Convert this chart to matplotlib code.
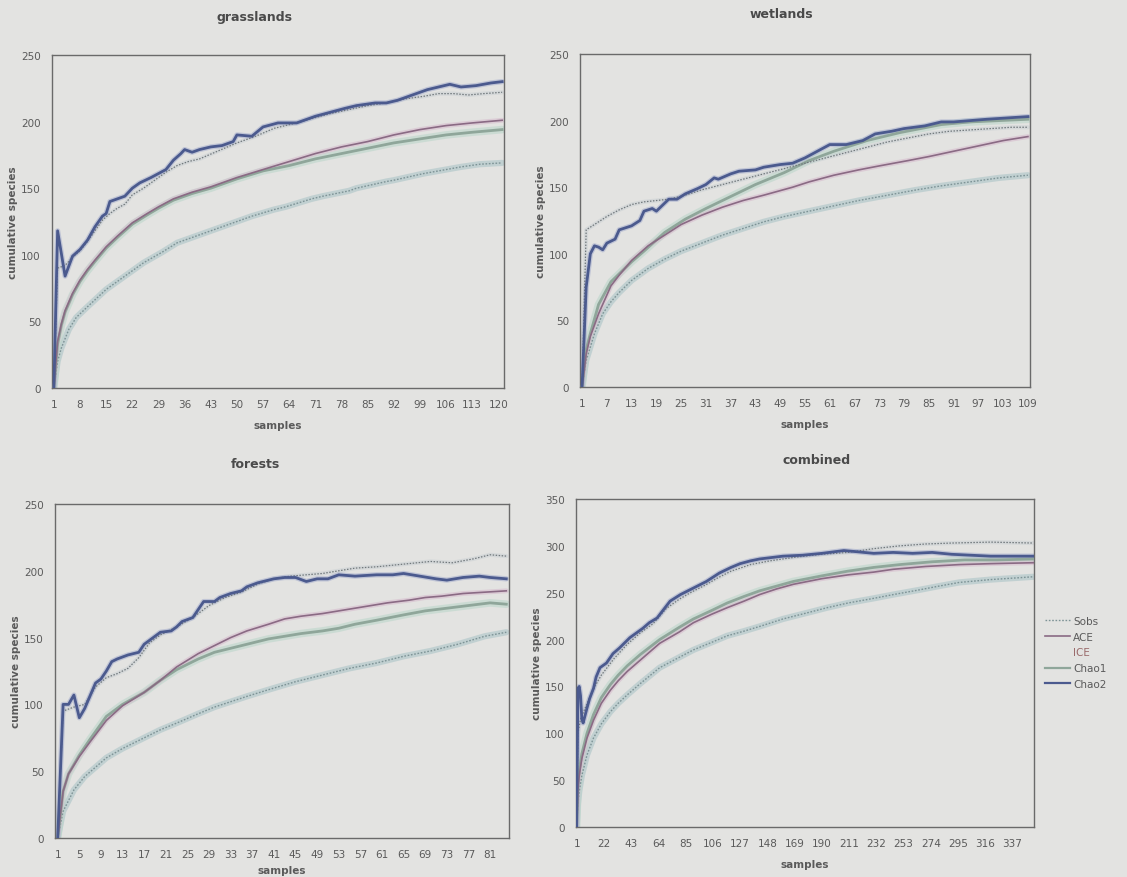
import matplotlib
matplotlib.use("Agg")
import matplotlib.pyplot as plt
from matplotlib.lines import Line2D

# ---------------- data ----------------
series_names = ["Sobs", "ACE", "ICE", "Chao1", "Chao2"]

# grasslands
gr_sobs_x = [1, 2, 3, 5, 7, 10, 15, 20, 25, 30, 34, 40, 44, 50, 54, 60, 63, 70, 73, 80, 82, 90, 92, 100, 102, 110, 115, 121]
gr_sobs_y = [0, 20, 30, 44, 53, 61, 74, 84, 94, 102, 109, 115, 119, 125, 129, 134, 136, 142, 144, 148, 150, 155, 156, 161, 162, 166, 168, 169]
gr_ace_x = [1, 2, 3, 4, 6, 8, 10, 12, 15, 18, 22, 26, 29, 33, 38, 43, 50, 57, 64, 71, 78, 85, 92, 99, 106, 113, 121]
gr_ace_y = [0, 35, 48, 58, 71, 81, 89, 96, 106, 114, 124, 131, 136, 142, 147, 151, 158, 164, 170, 176, 181, 185, 190, 194, 197, 199, 201]
gr_ice_x = [1, 2, 4, 6, 8, 10, 12, 14, 16, 18, 20, 22, 25, 28, 31, 34, 37, 40, 45, 50, 55, 60, 66, 71, 75, 80, 85, 90, 95, 100, 104, 108, 112, 116, 121]
gr_ice_y = [0, 90, 92, 98, 103, 110, 118, 126, 131, 135, 138, 145, 150, 156, 162, 167, 170, 172, 178, 184, 189, 195, 199, 203, 206, 209, 212, 214, 217, 219, 221, 221, 220, 221, 222]
gr_chao1_x = [1, 2, 3, 4, 6, 8, 10, 12, 15, 18, 22, 26, 29, 33, 38, 43, 50, 57, 64, 71, 78, 85, 92, 99, 106, 113, 121]
gr_chao1_y = [0, 33, 47, 57, 70, 80, 88, 95, 105, 113, 123, 130, 135, 141, 146, 150, 157, 163, 167, 172, 176, 180, 184, 187, 190, 192, 194]
gr_chao2_x = [1, 2, 4, 6, 8, 10, 12, 14, 15, 16, 18, 20, 22, 24, 27, 29, 31, 33, 35, 36, 38, 40, 43, 46, 49, 50, 54, 57, 61, 66, 71, 75, 79, 82, 87, 90, 93, 97, 101, 104, 107, 110, 114, 118, 121]
gr_chao2_y = [0, 118, 84, 99, 104, 111, 121, 129, 131, 140, 142, 144, 150, 154, 158, 161, 164, 171, 176, 179, 177, 179, 181, 182, 185, 190, 189, 196, 199, 199, 204, 207, 210, 212, 214, 214, 216, 220, 224, 226, 228, 226, 227, 229, 230]

# wetlands
we_sobs_x = [1, 2, 3, 4, 6, 8, 10, 13, 17, 21, 25, 30, 35, 40, 45, 50, 56, 62, 68, 75, 82, 88, 95, 102, 109]
we_sobs_y = [0, 20, 30, 40, 55, 64, 71, 80, 89, 96, 102, 108, 114, 119, 124, 128, 132, 136, 140, 144, 148, 151, 154, 157, 159]
we_ace_x = [1, 2, 3, 5, 8, 10, 13, 17, 21, 25, 30, 35, 40, 45, 52, 56, 62, 68, 73, 80, 85, 91, 97, 103, 109]
we_ace_y = [0, 25, 38, 55, 76, 84, 95, 106, 114, 122, 129, 135, 140, 144, 150, 154, 159, 163, 166, 170, 173, 177, 181, 185, 188]
we_ice_x = [1, 2, 4, 7, 10, 13, 16, 19, 22, 26, 30, 35, 40, 45, 50, 55, 60, 65, 70, 75, 80, 85, 90, 95, 100, 105, 109]
we_ice_y = [0, 118, 122, 128, 133, 137, 139, 140, 141, 144, 148, 152, 156, 160, 164, 168, 172, 176, 180, 184, 187, 190, 192, 193, 194, 195, 195]
we_chao1_x = [1, 2, 3, 5, 8, 10, 13, 16, 21, 26, 31, 37, 43, 50, 56, 62, 70, 78, 88, 95, 102, 109]
we_chao1_y = [0, 28, 40, 62, 79, 85, 94, 102, 116, 126, 134, 143, 152, 161, 170, 177, 185, 191, 197, 199, 200, 201]
we_chao2_x = [1, 2, 3, 4, 5, 6, 7, 9, 10, 13, 15, 16, 18, 19, 22, 24, 26, 29, 31, 33, 34, 37, 39, 43, 45, 49, 52, 55, 58, 61, 65, 69, 72, 76, 79, 84, 88, 91, 95, 99, 104, 109]
we_chao2_y = [0, 75, 100, 106, 105, 103, 108, 111, 118, 121, 125, 132, 134, 132, 141, 141, 145, 149, 152, 157, 156, 160, 162, 163, 165, 167, 168, 172, 177, 182, 182, 185, 190, 192, 194, 196, 199, 199, 200, 201, 202, 203]

# forests
fo_sobs_x = [1, 2, 4, 6, 8, 10, 13, 17, 20, 23, 27, 30, 33, 36, 40, 45, 50, 55, 60, 65, 70, 75, 80, 84]
fo_sobs_y = [0, 20, 36, 46, 53, 60, 67, 75, 81, 86, 93, 98, 102, 106, 111, 117, 122, 127, 131, 136, 140, 145, 151, 154]
fo_ace_x = [1, 2, 3, 5, 7, 10, 13, 17, 20, 23, 27, 30, 33, 36, 40, 43, 46, 50, 56, 62, 66, 69, 72, 76, 80, 84]
fo_ace_y = [0, 35, 48, 61, 72, 88, 99, 109, 118, 128, 138, 144, 150, 155, 160, 164, 166, 168, 172, 176, 178, 180, 181, 183, 184, 185]
fo_ice_x = [1, 2, 4, 6, 8, 10, 12, 14, 16, 18, 20, 23, 26, 29, 32, 35, 38, 41, 44, 47, 50, 53, 56, 60, 65, 70, 74, 78, 81, 84]
fo_ice_y = [0, 95, 98, 100, 113, 120, 123, 127, 135, 146, 152, 158, 165, 174, 180, 184, 190, 194, 196, 197, 198, 200, 202, 203, 205, 207, 206, 209, 212, 211]
fo_chao1_x = [1, 2, 3, 5, 7, 10, 13, 17, 20, 23, 27, 30, 33, 36, 40, 43, 46, 50, 53, 56, 60, 65, 69, 73, 77, 81, 84]
fo_chao1_y = [0, 35, 48, 62, 74, 91, 100, 109, 118, 126, 134, 139, 142, 145, 149, 151, 153, 155, 157, 160, 163, 167, 170, 172, 174, 176, 175]
fo_chao2_x = [1, 2, 3, 4, 5, 6, 8, 9, 10, 11, 12, 14, 16, 17, 19, 20, 22, 23, 24, 26, 27, 28, 30, 31, 33, 35, 36, 38, 40, 41, 43, 45, 47, 49, 51, 53, 56, 60, 63, 65, 68, 71, 73, 76, 79, 81, 84]
fo_chao2_y = [0, 100, 100, 107, 90, 97, 116, 119, 125, 132, 134, 137, 139, 145, 151, 154, 155, 158, 162, 165, 171, 177, 177, 180, 183, 185, 188, 191, 193, 194, 195, 195, 192, 194, 194, 197, 196, 197, 197, 198, 196, 194, 193, 195, 196, 195, 194]

# combined
co_sobs_x = [1, 2, 3, 5, 9, 14, 20, 27, 33, 40, 50, 65, 80, 91, 105, 117, 130, 142, 160, 180, 194, 210, 230, 245, 265, 280, 296, 320, 353]
co_sobs_y = [0, 25, 38, 55, 77, 95, 110, 123, 132, 141, 153, 170, 181, 189, 197, 204, 209, 214, 222, 229, 234, 239, 244, 248, 253, 257, 261, 264, 267]
co_ace_x = [1, 2, 3, 5, 9, 14, 20, 27, 33, 40, 50, 65, 80, 91, 105, 117, 130, 142, 155, 168, 190, 210, 230, 245, 270, 296, 320, 353]
co_ace_y = [0, 40, 55, 73, 95, 114, 132, 146, 156, 166, 178, 196, 208, 218, 227, 234, 241, 248, 254, 259, 265, 269, 272, 275, 278, 280, 281, 282]
co_ice_x = [1, 2, 4, 7, 10, 15, 20, 30, 40, 50, 60, 70, 80, 90, 100, 110, 120, 135, 150, 170, 190, 210, 230, 250, 270, 290, 320, 353]
co_ice_y = [0, 100, 115, 125, 135, 150, 162, 180, 195, 207, 217, 233, 243, 251, 258, 266, 273, 280, 284, 288, 291, 293, 297, 300, 302, 303, 304, 303]
co_chao1_x = [1, 2, 3, 5, 9, 14, 20, 27, 33, 40, 50, 65, 80, 91, 105, 117, 130, 142, 155, 168, 190, 210, 230, 250, 275, 300, 325, 353]
co_chao1_y = [0, 45, 60, 78, 100, 120, 138, 152, 162, 172, 184, 200, 213, 222, 231, 239, 246, 252, 257, 262, 268, 273, 277, 280, 283, 285, 285, 286]
co_chao2_x = [1, 2, 3, 4, 5, 6, 9, 11, 14, 16, 19, 24, 29, 34, 42, 52, 57, 63, 73, 81, 91, 101, 111, 120, 127, 135, 142, 160, 175, 190, 207, 215, 230, 245, 260, 275, 290, 305, 320, 335, 353]
co_chao2_y = [0, 148, 150, 140, 115, 111, 127, 137, 148, 160, 170, 175, 185, 191, 202, 212, 218, 223, 241, 248, 255, 262, 271, 277, 281, 284, 286, 289, 290, 292, 295, 294, 292, 293, 292, 293, 291, 290, 289, 289, 289]

# axes / tick texts
titles = ["grasslands", "wetlands", "forests", "combined"]
gr_ticks = [1, 8, 15, 22, 29, 36, 43, 50, 57, 64, 71, 78, 85, 92, 99, 106, 113, 120]
we_ticks = [1, 7, 13, 19, 25, 31, 37, 43, 49, 55, 61, 67, 73, 79, 85, 91, 97, 103, 109]
fo_ticks = [1, 5, 9, 13, 17, 21, 25, 29, 33, 37, 41, 45, 49, 53, 57, 61, 65, 69, 73, 77, 81]
co_ticks = [1, 22, 43, 64, 85, 106, 127, 148, 169, 190, 211, 232, 253, 274, 295, 316, 337]
y_ticks_250 = [0, 50, 100, 150, 200, 250]
y_ticks_350 = [0, 50, 100, 150, 200, 250, 300, 350]

# ---------------- styling ----------------
BG = "#e3e3e1"
TXT = "#5a5a5a"
styles = {
    "Sobs":  dict(color="#7d9396", lw=1.0, ls=(0, (1.2, 1.2)), halo="#b3c9cb", hlw=4.5, ha=0.7),
    "ACE":   dict(color="#8a6a84", lw=1.2, ls="-", halo="#d6bccd", hlw=3.5, ha=0.6),
    "ICE":   dict(color="#70787c", lw=0.9, ls=(0, (1.2, 1.2)), halo="#c8cfd2", hlw=3.0, ha=0.5),
    "Chao1": dict(color="#8fa69a", lw=2.0, ls="-", halo="#bcd6cb", hlw=5.5, ha=0.6),
    "Chao2": dict(color="#4b5a8e", lw=2.0, ls="-", halo="#a3abcc", hlw=3.8, ha=0.55),
}

fig = plt.figure(figsize=(11.27, 8.78), dpi=100, facecolor=BG)
W, H = 1127.0, 878.0

def ax_at(x0, y0, x1, y1):
    return fig.add_axes([x0 / W, 1 - y1 / H, (x1 - x0) / W, (y1 - y0) / H])

panels = [
    (ax_at(52, 56, 504, 389), titles[0], 121, gr_ticks, y_ticks_250,
     [(gr_sobs_x, gr_sobs_y), (gr_ace_x, gr_ace_y), (gr_ice_x, gr_ice_y), (gr_chao1_x, gr_chao1_y), (gr_chao2_x, gr_chao2_y)], (255, 17), 8),
    (ax_at(580, 55, 1030, 388), titles[1], 109, we_ticks, y_ticks_250,
     [(we_sobs_x, we_sobs_y), (we_ace_x, we_ace_y), (we_ice_x, we_ice_y), (we_chao1_x, we_chao1_y), (we_chao2_x, we_chao2_y)], (781, 14), 8),
    (ax_at(55, 505, 509, 839), titles[2], 84, fo_ticks, y_ticks_250,
     [(fo_sobs_x, fo_sobs_y), (fo_ace_x, fo_ace_y), (fo_ice_x, fo_ice_y), (fo_chao1_x, fo_chao1_y), (fo_chao2_x, fo_chao2_y)], (255, 465), 4),
    (ax_at(576, 500, 1034, 828), titles[3], 353, co_ticks, y_ticks_350,
     [(co_sobs_x, co_sobs_y), (co_ace_x, co_ace_y), (co_ice_x, co_ice_y), (co_chao1_x, co_chao1_y), (co_chao2_x, co_chao2_y)], (817, 461), 8),
]

for ax, title, n, xt, yt, data, tpos, xlpad in panels:
    ax.set_facecolor(BG)
    order = ["Sobs", "Chao1", "ACE", "ICE", "Chao2"]
    for name in order:
        i = series_names.index(name)
        xs, ys = data[i]
        st = styles[name]
        ax.plot(xs, ys, color=st["halo"], lw=st["hlw"], alpha=st["ha"],
                solid_capstyle="round", solid_joinstyle="round", zorder=2)
    for name in order:
        i = series_names.index(name)
        xs, ys = data[i]
        st = styles[name]
        ax.plot(xs, ys, color=st["color"], lw=st["lw"], ls=st["ls"],
                solid_joinstyle="round", zorder=3)
    ax.set_xlim(0.5, n + 0.5)
    ax.set_ylim(yt[0], yt[-1])
    ax.set_xticks(xt)
    ax.set_xticklabels([str(t) for t in xt])
    ax.set_yticks(yt)
    ax.tick_params(axis="both", length=0, labelsize=7.5, colors=TXT, pad=8)
    for sp in ax.spines.values():
        sp.set_color("#6a6a6a")
        sp.set_linewidth(1.0)
    ax.set_xlabel("samples", fontsize=7.5, fontweight="bold", color=TXT, labelpad=xlpad)
    ax.set_ylabel("cumulative species", fontsize=7.5, fontweight="bold", color=TXT, labelpad=2)
    fig.text(tpos[0] / W, 1 - tpos[1] / H, title, ha="center", va="center",
             fontsize=9, fontweight="bold", color="#4a4a4a")

handles = []
for name in series_names:
    st = styles[name]
    if name == "ICE":
        handles.append(Line2D([], [], color=BG, lw=1))
    else:
        handles.append(Line2D([], [], color=st["color"], lw=min(st["lw"], 1.6), ls=st["ls"]))
leg = fig.legend(handles, series_names, loc="upper left",
                 bbox_to_anchor=(1045 / W, 1 - 617 / H), frameon=False,
                 fontsize=7.5, handlelength=2.4, handletextpad=0.3,
                 labelspacing=0.55, borderaxespad=0, borderpad=0)
for t, name in zip(leg.get_texts(), series_names):
    t.set_color("#9a6a6a" if name == "ICE" else TXT)

fig.savefig("out.png", dpi=100, facecolor=BG)
